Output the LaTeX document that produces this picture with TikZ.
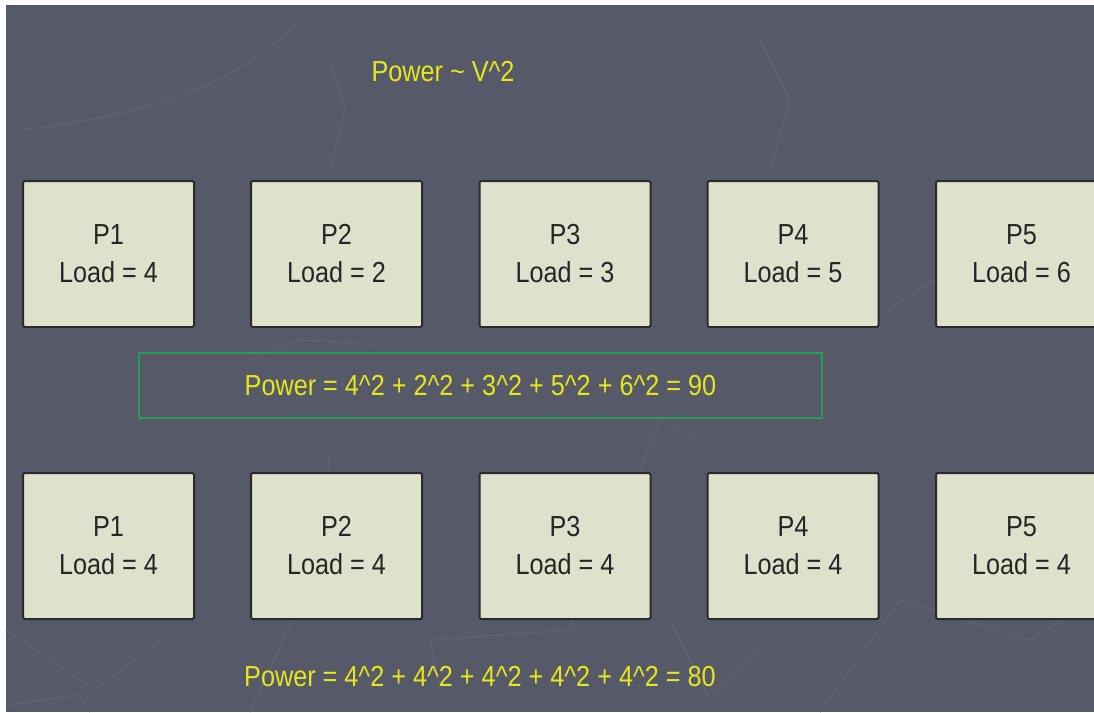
\documentclass[tikz,border=0pt]{standalone}
\usepackage{fontspec}
\setmainfont{Liberation Sans}[FakeStretch=0.87]
\definecolor{bgslate}{HTML}{565967}
\definecolor{bgline}{HTML}{5E6170}
\definecolor{boxfill}{HTML}{DEE1CC}
\definecolor{boxedge}{HTML}{2B2B2B}
\definecolor{txtyellow}{HTML}{E6E61C}
\definecolor{framegreen}{HTML}{23A055}
\tikzset{
  procbox/.style={draw=boxedge, line width=2pt, fill=boxfill, rounded corners=1.5pt,
    minimum width=171pt, minimum height=146pt, inner sep=0pt, align=center,
    font=\fontsize{29}{38}\selectfont, text=black!85},
  yellowtext/.style={text=txtyellow, font=\fontsize{29}{36}\selectfont, inner sep=0pt},
  framebox/.style={draw=framegreen, line width=2pt, minimum width=683pt, minimum height=65pt, inner sep=0pt},
  faint/.style={draw=bgline, line width=1.5pt}
}
\begin{document}
\begin{tikzpicture}[x=1pt,y=-1pt]
\useasboundingbox (0,0) rectangle (1094,712);
\fill[white] (0,0) rectangle (1094,712);
\fill[bgslate] (6,5) rectangle (1094,712);
% faint background decoration
\draw[faint] (20,130) .. controls (200,110) and (260,60) .. (300,20);
\draw[faint] (330,60) -- (345,110) -- (330,170);
\draw[faint] (760,40) -- (790,100) -- (770,170);
\draw[faint] (250,360) -- (300,340) -- (380,345);
\draw[faint] (640,470) -- (660,420) -- (700,440);
\draw[faint] (6,630) -- (95,690) -- (160,640);
\draw[faint] (250,712) -- (320,560) -- (330,450);
\draw[faint] (440,690) -- (430,640) -- (570,630) -- (590,560);
\draw[faint] (670,620) -- (710,700) -- (760,650);
\draw[faint] (820,712) -- (900,600) -- (1030,640) -- (1094,600);
\draw[faint] (860,330) .. controls (900,300) and (950,270) .. (1000,240);
\draw[faint] (6,705) -- (80,695) -- (90,712);
% row 1
\node[procbox] (a1) at (108.5,254) {P1\\Load = 4};
\node[procbox] (a2) at (336.5,254) {P2\\Load = 2};
\node[procbox] (a3) at (565,254) {P3\\Load = 3};
\node[procbox] (a4) at (793,254) {P4\\Load = 5};
\node[procbox] (a5) at (1021.5,254) {P5\\Load = 6};
% row 2
\node[procbox] (b1) at (108.5,546) {P1\\Load = 4};
\node[procbox] (b2) at (336.5,546) {P2\\Load = 4};
\node[procbox] (b3) at (565,546) {P3\\Load = 4};
\node[procbox] (b4) at (793,546) {P4\\Load = 4};
\node[procbox] (b5) at (1021.5,546) {P5\\Load = 4};
% texts
\node[yellowtext] (title) at (443,72) {Power \char"7E{} V\char"5E 2};
\node[framebox] (frame) at (480.5,385.5) {};
\node[yellowtext] (eq1) at (frame.center) {Power = 4\char"5E 2 + 2\char"5E 2 + 3\char"5E 2 + 5\char"5E 2 + 6\char"5E 2 = 90};
\node[yellowtext] (eq2) at (480,677) {Power = 4\char"5E 2 + 4\char"5E 2 + 4\char"5E 2 + 4\char"5E 2 + 4\char"5E 2 = 80};
\end{tikzpicture}
\end{document}
